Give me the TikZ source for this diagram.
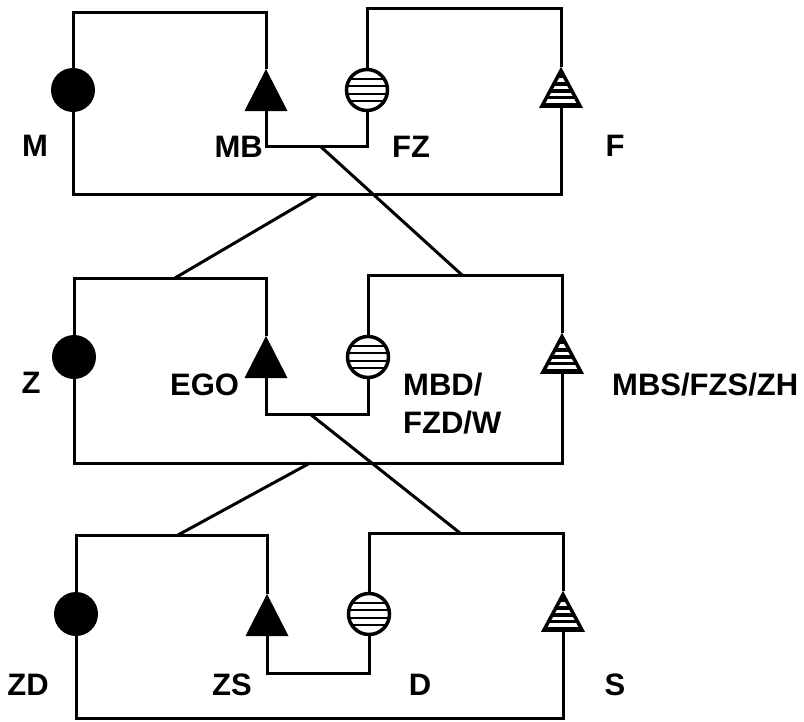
\documentclass[tikz,border=0pt]{standalone}
\usepackage{fontspec}
\setmainfont{Liberation Sans}
\begin{document}
\begin{tikzpicture}[x=1pt,y=-1pt,
  conn/.style={line width=3pt,line join=miter,line cap=butt},
  lbl/.style={inner sep=0pt,font=\fontsize{31}{34}\selectfont\bfseries},
  bcirc/.pic={\fill (0,0) circle[radius=22pt];
    \coordinate (-n) at (0,-22); \coordinate (-s) at (0,22);},
  scirc/.pic={\fill[white] (0,0) circle[radius=21pt];
    \begin{scope}\clip (0,0) circle[radius=21pt];
      \foreach \d in {-11.25,-3.75,3.75,11.25}{\draw[line width=2.4pt] (-25,\d) -- (25,\d);}
    \end{scope}
    \draw[line width=3.5pt] (0,0) circle[radius=20.5pt];
    \coordinate (-n) at (0,-22); \coordinate (-s) at (0,22);},
  btri/.pic={\fill (0,-21) -- (-21.5,21) -- (21.5,21) -- cycle;
    \coordinate (-top) at (0,-21); \coordinate (-bot) at (0,21);},
  stri/.pic={\begin{scope}\clip (0,-17.5) -- (-19,18) -- (19,18) -- cycle;
      \fill (-25,-25) rectangle (25,25);
      \foreach \d in {-8,-0.5,6.5,13}{\draw[white,line width=3.5pt] (-25,\d) -- (25,\d);}
    \end{scope}
    \draw[line width=3.5pt,line join=miter] (0,-17.5) -- (-19,18) -- (19,18) -- cycle;
    \coordinate (-top) at (0,-21); \coordinate (-bot) at (0,19.75);}
]
\useasboundingbox (0,0) rectangle (804,721);

% ---------- top generation ----------
\pic (M)  at (73,90)  {bcirc};
\pic (MB) at (266,90) {btri};
\pic (FZ) at (367,90) {scirc};
\pic (F)  at (561,88) {stri};
\coordinate (t1a) at (73,12);  \coordinate (t2a) at (367,8);
\coordinate (b1a) at (73,194); \coordinate (b1b) at (561,194);
\coordinate (j1a) at (266,146); \coordinate (j1b) at (367,146);
\draw[conn] (M-n) -- (t1a) -| (MB-top);
\draw[conn] (FZ-n) -- (t2a) -| (F-top);
\draw[conn] (M-s) -- (b1a) -- (b1b) -- (F-bot);
\draw[conn] (MB-bot) -- (j1a) -- (j1b) -- (FZ-s);

\node[lbl] (lM)  at (35,146) {M};
\node[lbl,anchor=base east] (lMB) at (263,157) {MB};
\node[lbl,anchor=base west] (lFZ) at (392,157) {FZ};
\node[lbl] (lF)  at (615,146) {F};

% ---------- middle generation ----------
\pic (Z)   at (74,357)  {bcirc};
\pic (EGO) at (266,357) {btri};
\pic (MBD) at (368,357) {scirc};
\pic (MBS) at (562,354) {stri};
\coordinate (t3a) at (74,278);  \coordinate (t4a) at (368,275);
\coordinate (b2a) at (74,463);  \coordinate (b2b) at (562,463);
\coordinate (j2a) at (266,414); \coordinate (j2b) at (368,414);
\draw[conn] (Z-n) -- (t3a) -| (EGO-top);
\draw[conn] (MBD-n) -- (t4a) -| (MBS-top);
\draw[conn] (Z-s) -- (b2a) -- (b2b) -- (MBS-bot);
\draw[conn] (EGO-bot) -- (j2a) -- (j2b) -- (MBD-s);

\node[lbl] (lZ) at (31,383) {Z};
\node[lbl,anchor=base west] (lEGO) at (170,395) {EGO};
\node[lbl,anchor=base west] (lMBD) at (403,395) {MBD/};
\node[lbl,anchor=base west] (lFZD) at (403,433) {FZD/W};
\node[lbl,anchor=base west] (lMBS) at (612,395) {MBS/FZS/ZH};

% links top -> middle
\coordinate (d1s) at (318,194); \coordinate (d1e) at (175,278);
\coordinate (d2s) at (320,146); \coordinate (d2e) at (462,275);
\draw[conn] (d1s) -- (d1e);
\draw[conn] (d2s) -- (d2e);

% ---------- bottom generation ----------
\pic (ZD) at (76,614)  {bcirc};
\pic (ZS) at (267,615) {btri};
\pic (D)  at (369,614) {scirc};
\pic (S)  at (563,612) {stri};
\coordinate (t5a) at (76,535);  \coordinate (t6a) at (369,533);
\coordinate (b3a) at (76,718);  \coordinate (b3b) at (563,718);
\coordinate (j3a) at (267,673); \coordinate (j3b) at (369,673);
\draw[conn] (ZD-n) -- (t5a) -| (ZS-top);
\draw[conn] (D-n) -- (t6a) -| (S-top);
\draw[conn] (ZD-s) -- (b3a) -- (b3b) -- (S-bot);
\draw[conn] (ZS-bot) -- (j3a) -- (j3b) -- (D-s);

\node[lbl] (lZD) at (28,685)  {ZD};
\node[lbl] (lZS) at (232,685) {ZS};
\node[lbl] (lD)  at (420,685) {D};
\node[lbl] (lS)  at (615,685) {S};

% links middle -> bottom
\coordinate (d3s) at (310,463); \coordinate (d3e) at (178,535);
\coordinate (d4s) at (310,414); \coordinate (d4e) at (460,533);
\draw[conn] (d3s) -- (d3e);
\draw[conn] (d4s) -- (d4e);
\end{tikzpicture}
\end{document}
